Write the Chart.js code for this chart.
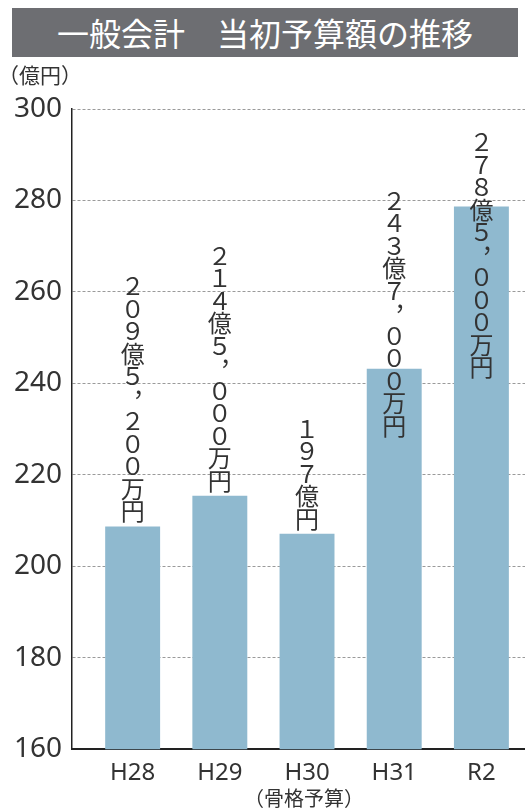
<!DOCTYPE html>
<html>
<head>
<meta charset="utf-8">
<script src="https://cdn.jsdelivr.net/npm/chart.js@4"></script>
<style>
  html, body { margin: 0; padding: 0; background: #fff; }
  #wrap { position: relative; width: 525px; height: 810px; }
  #title {
    position: absolute; left: 12px; top: 8px; width: 506px; height: 49px;
    background: #6d6e72; color: #fff; text-align: center;
    font: 32px "Noto Sans CJK JP", sans-serif; line-height: 49px;
  }
  #unit {
    position: absolute; left: -2px; top: 59px;
    font: 21px "Noto Sans CJK JP", sans-serif; color: #333;
  }
</style>
</head>
<body>
<div id="wrap">
  <canvas id="budgetChart" width="525" height="810"></canvas>
  <div id="title">一般会計　当初予算額の推移</div>
  <div id="unit">（億円）</div>
</div>
<script>
// ============================================
// DATA
// ============================================

const categories = ['H28', 'H29', 'H30', 'H31', 'R2'];
// bar heights as drawn (億円)
const budgetValues = [208.7, 215.4, 207.1, 243.2, 278.7];
const valueLabels = [
    '２０９億５，２００万円',
    '２１４億５，０００万円',
    '１９７億円',
    '２４３億７，０００万円',
    '２７８億５，０００万円'
];
const yTickValues = [160, 180, 200, 220, 240, 260, 280, 300];
const subLabelIndex = 2;
const subLabel = '（骨格予算）';

// ============================================
// PLUGINS
// ============================================

// Stacked vertical value labels above each bar
const verticalLabels = {
    id: 'verticalLabels',
    afterDatasetsDraw(chart, args, opts) {
        const ctx = chart.ctx;
        const meta = chart.getDatasetMeta(0);
        ctx.save();
        ctx.font = opts.font;
        ctx.fillStyle = opts.color;
        ctx.textAlign = 'center';
        ctx.textBaseline = 'middle';
        meta.data.forEach((bar, i) => {
            const chars = Array.from(valueLabels[i]);
            const shift = opts.shift[i] || 0;
            const bottom = bar.y - opts.gap + shift;
            const top = bottom - chars.length * opts.pitch;
            chars.forEach((ch, k) => {
                let cx = bar.x;
                let cy = top + opts.pitch * (k + 0.5);
                if (ch === '，') {
                    // vertical comma sits upper right
                    cx += 12;
                    cy -= 12;
                }
                ctx.fillText(ch, cx, cy);
            });
        });
        ctx.restore();
    }
};

// Sub label under one category tick
const subTickLabel = {
    id: 'subTickLabel',
    afterDraw(chart) {
        const ctx = chart.ctx;
        const x = chart.scales.x.getPixelForValue(subLabelIndex);
        ctx.save();
        ctx.font = '20px "Noto Sans CJK JP", sans-serif';
        ctx.fillStyle = '#333';
        ctx.textAlign = 'center';
        ctx.textBaseline = 'middle';
        ctx.fillText(subLabel, x - 3, chart.chartArea.bottom + 49);
        ctx.restore();
    }
};

// ============================================
// CHART
// ============================================

const ctx = document.getElementById('budgetChart').getContext('2d');

new Chart(ctx, {
    type: 'bar',
    data: {
        datasets: [{
            data: budgetValues.map((v, i) => ({ x: i, y: v })),
            backgroundColor: '#8fb9cf',
            borderWidth: 0,
            barPercentage: 0.63,
            categoryPercentage: 1.0
        }]
    },
    options: {
        responsive: false,
        animation: false,
        layout: { padding: { top: 109, right: 0, left: 4, bottom: 12 } },
        plugins: {
            legend: { display: false },
            tooltip: { enabled: false },
            verticalLabels: {
                font: '24px "Noto Sans CJK JP", sans-serif',
                color: '#333',
                pitch: 22.5,
                gap: 4,
                shift: [0, 0, 0, 72, 176]
            }
        },
        scales: {
            x: {
                type: 'linear',
                min: -0.695,
                max: 4.5,
                bounds: 'data',
                offset: false,
                afterBuildTicks(scale) {
                    scale.ticks = categories.map((c, i) => ({ value: i }));
                },
                ticks: {
                    callback: (v) => categories[v] || '',
                    color: '#333',
                    font: { family: 'Noto Sans', size: 24 },
                    padding: 10,
                    maxRotation: 0,
                    autoSkip: false
                },
                grid: { display: false, drawTicks: false },
                border: { display: true, color: '#222', width: 2 }
            },
            y: {
                min: 160,
                max: 300,
                afterBuildTicks(scale) {
                    scale.ticks = yTickValues.map(v => ({ value: v }));
                },
                ticks: {
                    color: '#333',
                    font: { family: 'Noto Sans', size: 28 },
                    padding: 10
                },
                grid: {
                    color: '#9a9a9a',
                    lineWidth: 1,
                    drawTicks: false
                },
                border: { display: true, color: '#222', width: 1.5, dash: [3, 2] }
            }
        }
    },
    plugins: [verticalLabels, subTickLabel]
});
</script>
</body>
</html>
